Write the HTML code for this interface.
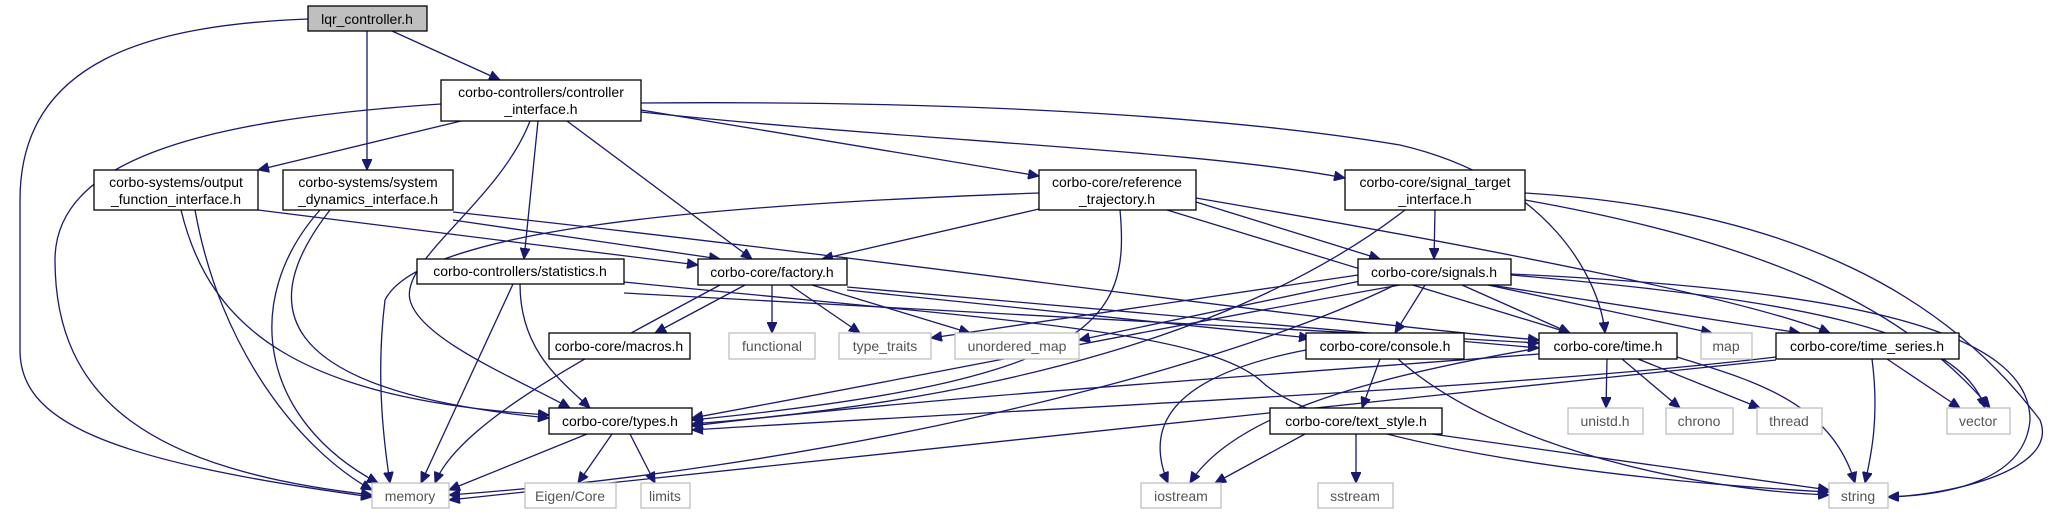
<!DOCTYPE html>
<html><head><meta charset="utf-8"><style>
html,body{margin:0;padding:0;background:#fff;}
svg{display:block;}
text{font-family:"Liberation Sans","DejaVu Sans",sans-serif;font-size:14px;fill:#000;text-anchor:middle;}
.n{fill:#fff;stroke:#000;stroke-width:1.3;}
.g{fill:#fff;stroke:#bfbfbf;stroke-width:1.3;}
path{fill:none;stroke:#191970;stroke-width:1.3;}
</style></head><body>
<svg width="2064" height="515" viewBox="0 0 2064 515" xmlns="http://www.w3.org/2000/svg">
<defs><marker id="a" markerWidth="12" markerHeight="10" refX="11" refY="5" orient="auto" markerUnits="userSpaceOnUse"><path d="M0,0 L11,5 L0,10 Z" style="fill:#191970;stroke:#191970;stroke-width:1"/></marker></defs>
<g marker-end="url(#a)">
<path d="M308,19 C150,25 20,60 20,200 L20,350 C20,420 100,460 372,497"/>
<path d="M367,31 L367,170"/>
<path d="M392,31 L500,80"/>
<path d="M441,104 C200,120 55,160 55,260 C55,400 150,470 372,495"/>
<path d="M461,121 L258,170"/>
<path d="M530,121 C500,200 400,260 410,300 C420,340 520,380 570,408"/>
<path d="M538,121 L524,259"/>
<path d="M567,121 L752,259"/>
<path d="M641,110 L1039,176"/>
<path d="M641,112 C900,140 1200,150 1345,178"/>
<path d="M641,103 C1000,100 1250,120 1400,145 C1550,180 1600,280 1605,333"/>
<path d="M181,210 C210,330 300,400 549,415"/>
<path d="M195,210 C220,350 300,450 372,490"/>
<path d="M258,210 L698,265"/>
<path d="M330,210 C260,300 260,390 549,418"/>
<path d="M320,210 C240,300 260,420 378,483"/>
<path d="M453,220 L720,259"/>
<path d="M453,212 C900,260 1300,320 1539,340"/>
<path d="M513,284 L421,483"/>
<path d="M520,284 C520,350 560,380 590,408"/>
<path d="M624,293 L1539,343"/>
<path d="M624,282 C1000,320 1200,330 1260,380 C1320,440 1600,480 1829,492"/>
<path d="M1039,193 C700,205 420,230 385,300 C375,380 385,450 390,483"/>
<path d="M1039,209 L822,259"/>
<path d="M1120,210 C1130,320 1100,380 692,420"/>
<path d="M1196,202 L1380,259"/>
<path d="M1167,210 L1570,333"/>
<path d="M1196,198 C1500,250 1750,300 1830,333"/>
<path d="M1405,210 C1250,330 1000,400 692,424"/>
<path d="M1435,210 L1434,259"/>
<path d="M1525,200 C1750,240 1900,300 1990,408"/>
<path d="M1525,193 C1800,210 1950,300 2040,420 C2060,470 1950,495 1888,497"/>
<path d="M1400,285 C1200,320 900,380 692,418"/>
<path d="M1395,285 C1200,380 800,470 449,495"/>
<path d="M1358,275 L931,338"/>
<path d="M1365,280 L1079,340"/>
<path d="M1425,285 L1395,333"/>
<path d="M1462,285 L1570,333"/>
<path d="M1488,285 L1712,333"/>
<path d="M1490,285 L1800,333"/>
<path d="M1511,275 C1800,300 1960,330 1985,408"/>
<path d="M1511,274 C1850,290 2030,330 2030,420 C2025,480 1950,495 1888,497"/>
<path d="M720,285 C600,350 460,420 435,483"/>
<path d="M745,285 L655,333"/>
<path d="M772,285 L772,333"/>
<path d="M790,285 L860,333"/>
<path d="M812,285 L970,333"/>
<path d="M847,290 L1310,338"/>
<path d="M847,287 L1539,348"/>
<path d="M1306,350 C1150,380 1150,440 1168,483"/>
<path d="M1380,359 L1362,408"/>
<path d="M1398,359 C1500,450 1700,490 1829,495"/>
<path d="M1539,354 C1200,380 900,400 692,426"/>
<path d="M1539,348 C1350,380 1230,420 1190,483"/>
<path d="M1607,359 L1606,408"/>
<path d="M1622,359 L1680,408"/>
<path d="M1638,359 L1760,408"/>
<path d="M1677,357 C1750,380 1830,400 1855,483"/>
<path d="M1776,357 C1500,390 1000,410 692,430"/>
<path d="M1776,360 C1300,410 700,470 449,500"/>
<path d="M1872,359 C1880,420 1870,460 1865,483"/>
<path d="M1887,359 L1960,408"/>
<path d="M1305,434 L1215,483"/>
<path d="M1356,434 L1356,483"/>
<path d="M1432,434 L1829,490"/>
<path d="M587,434 L449,490"/>
<path d="M612,434 L578,483"/>
<path d="M630,434 L655,483"/>
</g>
<rect x="308" y="6" width="119" height="25" style="fill:#bfbfbf;stroke:#000;stroke-width:1.3"/><text x="367" y="24">lqr_controller.h</text>
<rect class="n" x="441" y="80" width="200" height="41"/><text x="541" y="97">corbo-controllers/controller</text><text x="541" y="114">_interface.h</text>
<rect class="n" x="94" y="170" width="164" height="40"/><text x="176" y="187">corbo-systems/output</text><text x="176" y="204">_function_interface.h</text>
<rect class="n" x="283" y="170" width="170" height="40"/><text x="368" y="187">corbo-systems/system</text><text x="368" y="204">_dynamics_interface.h</text>
<rect class="n" x="1039" y="170" width="157" height="40"/><text x="1117" y="187">corbo-core/reference</text><text x="1117" y="204">_trajectory.h</text>
<rect class="n" x="1345" y="170" width="180" height="40"/><text x="1435" y="187">corbo-core/signal_target</text><text x="1435" y="204">_interface.h</text>
<rect class="n" x="417" y="259" width="207" height="25"/><text x="520" y="276">corbo-controllers/statistics.h</text>
<rect class="n" x="698" y="259" width="149" height="26"/><text x="772" y="277">corbo-core/factory.h</text>
<rect class="n" x="1358" y="259" width="153" height="26"/><text x="1434" y="277">corbo-core/signals.h</text>
<rect class="n" x="549" y="333" width="141" height="26"/><text x="619" y="351">corbo-core/macros.h</text>
<rect class="g" x="729" y="333" width="86" height="26"/><text x="772" y="351" style="fill:#555">functional</text>
<rect class="g" x="839" y="333" width="92" height="26"/><text x="885" y="351" style="fill:#555">type_traits</text>
<rect class="g" x="955" y="333" width="124" height="26"/><text x="1017" y="351" style="fill:#555">unordered_map</text>
<rect class="n" x="1306" y="333" width="158" height="26"/><text x="1385" y="351">corbo-core/console.h</text>
<rect class="n" x="1539" y="333" width="138" height="26"/><text x="1608" y="351">corbo-core/time.h</text>
<rect class="g" x="1701" y="333" width="51" height="26"/><text x="1726" y="351" style="fill:#555">map</text>
<rect class="n" x="1776" y="333" width="183" height="26"/><text x="1867" y="351">corbo-core/time_series.h</text>
<rect class="n" x="549" y="408" width="143" height="26"/><text x="620" y="426">corbo-core/types.h</text>
<rect class="n" x="1270" y="408" width="172" height="26"/><text x="1356" y="426">corbo-core/text_style.h</text>
<rect class="g" x="1568" y="408" width="75" height="26"/><text x="1605" y="426" style="fill:#555">unistd.h</text>
<rect class="g" x="1666" y="408" width="67" height="26"/><text x="1699" y="426" style="fill:#555">chrono</text>
<rect class="g" x="1757" y="408" width="65" height="26"/><text x="1789" y="426" style="fill:#555">thread</text>
<rect class="g" x="1947" y="408" width="63" height="26"/><text x="1978" y="426" style="fill:#555">vector</text>
<rect class="g" x="372" y="483" width="77" height="25"/><text x="410" y="501" style="fill:#555">memory</text>
<rect class="g" x="525" y="483" width="91" height="25"/><text x="570" y="501" style="fill:#555">Eigen/Core</text>
<rect class="g" x="641" y="483" width="49" height="25"/><text x="665" y="501" style="fill:#555">limits</text>
<rect class="g" x="1141" y="483" width="80" height="25"/><text x="1181" y="501" style="fill:#555">iostream</text>
<rect class="g" x="1318" y="483" width="75" height="25"/><text x="1355" y="501" style="fill:#555">sstream</text>
<rect class="g" x="1829" y="483" width="59" height="25"/><text x="1858" y="501" style="fill:#555">string</text>
</svg>
</body></html>
